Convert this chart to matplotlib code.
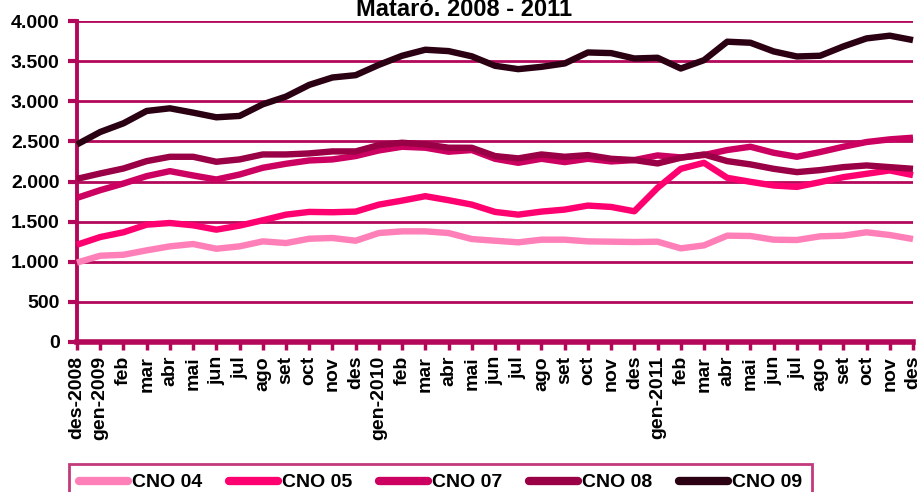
import matplotlib
matplotlib.use("Agg")
import matplotlib.pyplot as plt
from matplotlib.ticker import FuncFormatter

months = ["des-2008", "gen-2009", "feb", "mar", "abr", "mai", "jun", "jul", "ago", "set", "oct", "nov", "des",
          "gen-2010", "feb", "mar", "abr", "mai", "jun", "jul", "ago", "set", "oct", "nov", "des",
          "gen-2011", "feb", "mar", "abr", "mai", "jun", "jul", "ago", "set", "oct", "nov", "des"]

cno04 = [990, 1075, 1087, 1142, 1192, 1221, 1162, 1192, 1254, 1233, 1287, 1296, 1262,
         1358, 1379, 1379, 1358, 1283, 1262, 1242, 1275, 1275, 1254, 1250, 1246,
         1250, 1167, 1204, 1325, 1321, 1275, 1271, 1317, 1325, 1367, 1333, 1283]
cno05 = [1212, 1308, 1367, 1462, 1483, 1454, 1400, 1450, 1517, 1587, 1621, 1617, 1625,
         1712, 1762, 1817, 1767, 1712, 1621, 1587, 1625, 1650, 1700, 1683, 1629,
         1921, 2158, 2233, 2046, 1996, 1950, 1933, 1992, 2054, 2096, 2138, 2079]
cno07 = [1796, 1892, 1975, 2067, 2129, 2075, 2025, 2087, 2171, 2221, 2262, 2275, 2317,
         2387, 2433, 2421, 2371, 2392, 2283, 2233, 2283, 2242, 2283, 2250, 2267,
         2325, 2300, 2330, 2392, 2433, 2358, 2308, 2367, 2433, 2492, 2525, 2546]
cno08 = [2033, 2100, 2162, 2254, 2308, 2308, 2246, 2275, 2337, 2337, 2350, 2375, 2375,
         2454, 2483, 2462, 2421, 2420, 2317, 2288, 2337, 2308, 2329, 2283, 2267,
         2225, 2296, 2337, 2254, 2213, 2158, 2117, 2142, 2179, 2200, 2179, 2158]
cno09 = [2462, 2617, 2725, 2879, 2912, 2858, 2800, 2817, 2962, 3058, 3204, 3296, 3325,
         3454, 3567, 3642, 3625, 3560, 3442, 3400, 3429, 3471, 3608, 3600, 3533,
         3542, 3408, 3512, 3742, 3729, 3621, 3558, 3567, 3683, 3783, 3817, 3762]

series_names = ["CNO 04", "CNO 05", "CNO 07", "CNO 08", "CNO 09"]
series_values = [cno04, cno05, cno07, cno08, cno09]
colors = ["#FF80B8", "#FF0070", "#CC0060", "#990045", "#2A0012"]

yticks = [0, 500, 1000, 1500, 2000, 2500, 3000, 3500, 4000]

axis_col = "#B3085A"
plt.rcParams['font.family'] = ['Liberation Sans', 'DejaVu Sans']
plt.rcParams['font.weight'] = 'bold'

fig = plt.figure(figsize=(9.17, 4.92), dpi=100)
ax = fig.add_axes([77/917, 1-342/492, (913-77)/917, (342-21)/492])

x = list(range(len(months)))
handles = []
for name, vals, c in zip(series_names, series_values, colors):
    h, = ax.plot(x, vals, color=c, lw=4.6, label=name, solid_joinstyle='round',
                 solid_capstyle='butt', clip_on=False, zorder=3)
    handles.append(h)

ax.set_xlim(0, len(months)-1)
ax.set_ylim(0, 4000)
ax.set_yticks(yticks)
ax.yaxis.set_major_formatter(FuncFormatter(lambda v, p: f"{int(v):,}".replace(",", ".")))
ax.set_xticks(x)
ax.set_xticklabels(months, rotation=90, fontsize=14, fontweight='bold', va='top', ha='center')
for lab in ax.get_yticklabels():
    lab.set_fontsize(14)
    lab.set_fontweight('bold')

ax.grid(axis='y', color=axis_col, lw=2, zorder=1)
ax.set_axisbelow(True)
for s in ['top', 'right']:
    ax.spines[s].set_visible(False)
ax.spines['left'].set_color(axis_col)
ax.spines['left'].set_linewidth(2.8)
ax.spines['bottom'].set_color(axis_col)
ax.spines['bottom'].set_linewidth(4)
ax.tick_params(axis='y', direction='out', length=6.5, width=3, color=axis_col, pad=6)
ax.tick_params(axis='x', direction='out', length=6, width=2.5, color=axis_col, pad=4)

fig.text(464/917, 1-16/492, "Mataró. 2008 - 2011", ha='center', va='baseline',
         fontsize=17, fontweight='bold')

leg = fig.legend(handles=handles, labels=series_names, loc='upper left',
                 bbox_to_anchor=(69/917, 1-464/492), ncol=5, frameon=True,
                 fancybox=False, edgecolor=axis_col, fontsize=14,
                 handlelength=2.55, handletextpad=0.2, columnspacing=1.35,
                 borderpad=0.5, borderaxespad=0)
leg.get_frame().set_linewidth(2)
for lh in leg.get_lines():
    lh.set_linewidth(6)
    lh.set_solid_capstyle('round')

fig.savefig("out.png", dpi=100)
